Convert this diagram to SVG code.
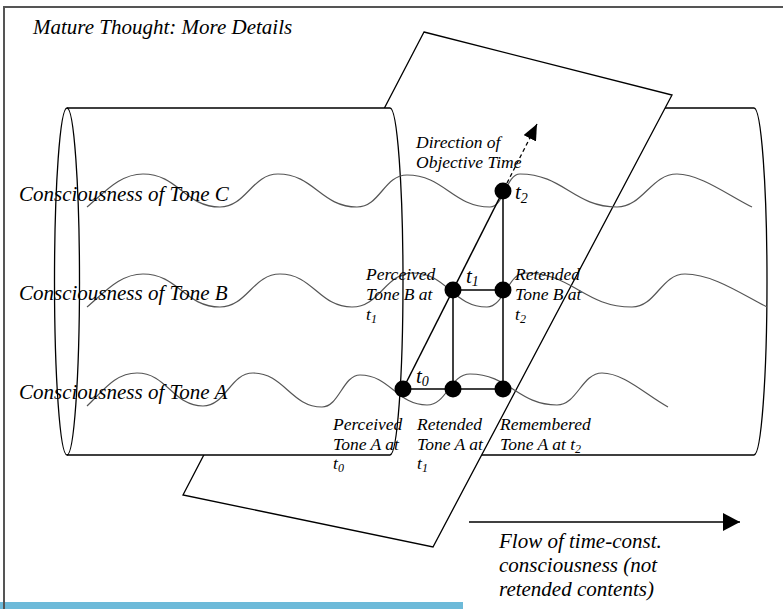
<svg xmlns="http://www.w3.org/2000/svg" width="783" height="609" viewBox="0 0 783 609">
<style>
.frame{fill:none;stroke:#555;stroke-width:2}
.cyl{fill:none;stroke:#000;stroke-width:1.3}
.plane{fill:#fff;stroke:#000;stroke-width:1.3}
.wave{fill:none;stroke:#555;stroke-width:1.2}
.conn{fill:none;stroke:#000;stroke-width:1.5}
.dash{fill:none;stroke:#000;stroke-width:1.3;stroke-dasharray:4 3}
.dot{fill:#000}
.big{font-family:"Liberation Serif","Times New Roman",serif;font-style:italic;font-size:21px;fill:#000}
.sm{font-family:"Liberation Serif","Times New Roman",serif;font-style:italic;font-size:17.5px;fill:#000}
.sub{font-size:12px}
.subb{font-size:14px}
</style>
<defs>
<marker id="ah" viewBox="0 0 17 18" refX="17" refY="9" markerWidth="17" markerHeight="18" markerUnits="userSpaceOnUse" orient="auto"><path d="M0,0 L17,9 L0,18 z" fill="#000"/></marker>
<marker id="ah2" viewBox="0 0 16 14" refX="16" refY="7" markerWidth="16" markerHeight="14" markerUnits="userSpaceOnUse" orient="auto"><path d="M0,0 L16,7 L0,14 z" fill="#000"/></marker>
</defs>
<rect x="0" y="602" width="463" height="7" fill="#6dbad9"/>
<path class="frame" d="M4,609 L4,7 L783,7"/>
<text class="big" x="33" y="34">Mature Thought: More Details</text>
<g id="cylinder-back">
<path class="cyl" d="M392,108 L754,108 A13,173.5 0 0 1 754,455 L392,455"/>
</g>
<g id="plane">
<polygon class="plane" points="424,32 672,95 433,547 183,495"/>
</g>
<g id="cylinder-front">
<path d="M67,108 L390,108 A13,173.5 0 0 1 390,455 L67,455 Z" fill="#fff"/>
<path class="cyl" d="M67,108 L390,108 A13,173.5 0 0 1 390,455 L67,455"/>
<ellipse class="cyl" cx="67" cy="281.5" rx="12.5" ry="173.5"/>
</g>
<g id="waves">
<path id="wave-c" class="wave" d="M87,207 C105,192 120,174 143,174 C178,174 185,207 220,207 C246,207 252,174 278,174 C314,174 321,207 357,207 C380,207 384,175 407,175 C444,175 453,207 490,207 C504,207 506,174 520,174 C563,174 574,207 617,207 C643,207 651,174 677,174 C700,174 728,195 752,207"/>
<path id="wave-b" class="wave" d="M87,307 C105,292 120,274 143,274 C178,274 185,307 220,307 C247,307 253,274 280,274 C313,274 319,307 352,307 C380,307 385,273 413,273 C447,273 453,307 487,307 C504,307 508,273 525,273 C573,273 584,307 632,307 C656,307 661,274 685,274 C712,274 740,293 767,307"/>
<path id="wave-a" class="wave" d="M87,406 C103,391 115,373 137,373 C167,373 173,406 203,406 C226,406 230,373 253,373 C284,373 291,407 322,407 C339,407 343,375 360,375 C390,375 397,405 427,405 C447,405 450,374 470,374 C509,374 518,405 557,405 C577,405 582,373 602,373 C624,373 646,395 668,407"/>
</g>
<g id="connectors">
<line class="conn" x1="403" y1="389" x2="503" y2="191"/>
<line class="conn" x1="503" y1="191" x2="503" y2="389"/>
<line class="conn" x1="453" y1="290" x2="453" y2="389"/>
<line class="conn" x1="453" y1="290" x2="503" y2="290"/>
<line class="conn" x1="403" y1="389" x2="503" y2="389"/>
<line class="dash" x1="507" y1="183" x2="537" y2="124" marker-end="url(#ah2)"/>
<line class="conn" x1="469" y1="522" x2="740" y2="522" marker-end="url(#ah)"/>
</g>
<g id="tone-labels">
<text class="big" x="19" y="201">Consciousness of Tone C</text>
<text class="big" x="19" y="300">Consciousness of Tone B</text>
<text class="big" x="19" y="399">Consciousness of Tone A</text>
</g>
<g id="node-t2">
<circle class="dot" cx="503" cy="191" r="8.5"/>
<text class="big" x="515" y="199">t<tspan class="subb" dy="4">2</tspan></text>
</g>
<g id="node-t1">
<circle class="dot" cx="453" cy="290" r="8.5"/>
<text class="big" x="466" y="283">t<tspan class="subb" dy="3">1</tspan></text>
<text class="sm" x="366" y="280">Perceived</text>
<text class="sm" x="366" y="300">Tone B at</text>
<text class="sm" x="366" y="320">t<tspan class="sub" dy="3">1</tspan></text>
</g>
<g id="node-retended-b">
<circle class="dot" cx="503" cy="290" r="8.5"/>
<text class="sm" x="515" y="280">Retended</text>
<text class="sm" x="515" y="300">Tone B at</text>
<text class="sm" x="515" y="320">t<tspan class="sub" dy="3">2</tspan></text>
</g>
<g id="node-t0">
<circle class="dot" cx="403" cy="389" r="8.5"/>
<text class="big" x="416" y="383">t<tspan class="subb" dy="3">0</tspan></text>
<text class="sm" x="333" y="430">Perceived</text>
<text class="sm" x="333" y="450">Tone A at</text>
<text class="sm" x="333" y="469">t<tspan class="sub" dy="3">0</tspan></text>
</g>
<g id="node-retended-a">
<circle class="dot" cx="453" cy="389" r="8.5"/>
<text class="sm" x="417" y="430">Retended</text>
<text class="sm" x="417" y="450">Tone A at</text>
<text class="sm" x="417" y="469">t<tspan class="sub" dy="3">1</tspan></text>
</g>
<g id="node-remembered-a">
<circle class="dot" cx="503" cy="389" r="8.5"/>
<text class="sm" x="500" y="430">Remembered</text>
<text class="sm" x="500" y="450">Tone A at t<tspan class="sub" dy="3">2</tspan></text>
</g>
<g id="direction-label">
<text class="sm" x="416" y="148">Direction of</text>
<text class="sm" x="416" y="168">Objective Time</text>
</g>
<g id="flow-label">
<text class="big" x="499" y="548">Flow of time-const.</text>
<text class="big" x="499" y="572">consciousness (not</text>
<text class="big" x="499" y="596">retended contents)</text>
</g>
</svg>
